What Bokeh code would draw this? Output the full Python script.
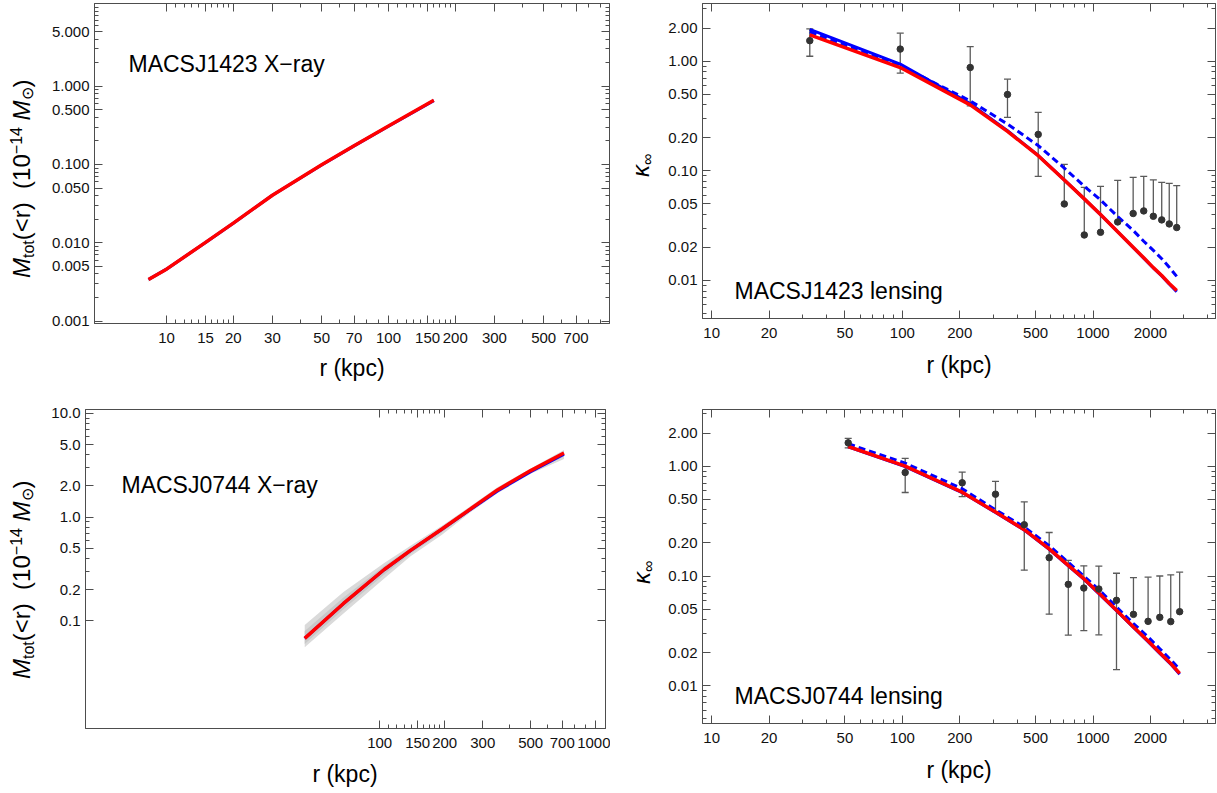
from bokeh.embed import file_html
from bokeh.layouts import column, row
from bokeh.models import (AllLabels, Div, FixedTicker, Label, LogAxis,
                          PrintfTickFormatter, Range1d)
from bokeh.plotting import figure
from bokeh.resources import INLINE

# ---------------------------------------------------------------- data
# MACSJ1423, total mass from X-ray
r_x1423 = [8.3, 10, 15, 20, 30, 50, 70, 100, 160]
m_x1423 = [0.0034, 0.0046, 0.0101, 0.0178, 0.0405, 0.099, 0.174, 0.31, 0.66]
m_x1423_blue = [0.0034, 0.0046, 0.0101, 0.0178, 0.0404, 0.0985, 0.173, 0.308, 0.655]
m_x1423_lo = [0.0032, 0.0044, 0.0097, 0.0172, 0.0392, 0.096, 0.169, 0.301, 0.64]
m_x1423_hi = [0.0036, 0.0048, 0.0105, 0.0184, 0.0418, 0.102, 0.179, 0.319, 0.68]

# MACSJ0744, total mass from X-ray
r_x0744 = [45, 68, 105, 139, 195, 264, 351, 500, 713]
m_x0744 = [0.068, 0.1475, 0.313, 0.479, 0.774, 1.205, 1.83, 2.81, 4.15]
m_x0744_blue = [0.068, 0.147, 0.312, 0.477, 0.77, 1.19, 1.79, 2.74, 4.05]
m_x0744_lo = [0.0558, 0.118, 0.256, 0.42, 0.682, 1.12, 1.70, 2.62, 3.63]
m_x0744_hi = [0.0914, 0.190, 0.362, 0.53, 0.832, 1.28, 1.94, 2.95, 4.43]
m_x0744_lo_in = [0.060, 0.130, 0.280, 0.445, 0.72, 1.15, 1.76, 2.70, 3.85]
m_x0744_hi_in = [0.080, 0.168, 0.338, 0.505, 0.80, 1.24, 1.88, 2.88, 4.30]

# MACSJ1423, lensing convergence
r_l1423 = [32.7, 97.5, 227, 356, 516, 707, 900, 1095, 1347, 1624, 1845, 2072, 2293, 2511, 2748]
k_l1423 = [1.54, 1.29, 0.876, 0.497, 0.215, 0.0499, 0.026, 0.0275, 0.0342, 0.0408,
           0.0431, 0.0385, 0.0357, 0.0328, 0.0304]
e_l1423 = [0.43, 0.51, 0.484, 0.189, 0.126, 0.0647, 0.0448, 0.0447, 0.0477, 0.0465,
           0.046, 0.0441, 0.0429, 0.0441, 0.0429]
k_l1423_red = [1.74, 0.875, 0.40, 0.229, 0.1375, 0.0826, 0.0555, 0.0399, 0.0278, 0.0201,
               0.0161, 0.0131, 0.0111, 0.0094, 0.0081]
k_l1423_blue = [1.95, 0.94, 0.41, 0.232, 0.138, 0.0826, 0.0555, 0.0399, 0.0278, 0.0200,
                0.0160, 0.0130, 0.0110, 0.0093, 0.0079]
k_l1423_dash = [1.85, 0.91, 0.435, 0.267, 0.17, 0.106, 0.0723, 0.0543, 0.0383, 0.0286,
                0.0228, 0.0188, 0.0158, 0.0132, 0.0109]

# MACSJ0744, lensing convergence
r_l0744 = [52, 103.5, 206, 308, 436, 589, 742, 895, 1073, 1328, 1630, 1945, 2240, 2557, 2847]
k_l0744 = [1.63, 0.876, 0.706, 0.556, 0.293, 0.147, 0.084, 0.0778, 0.0762, 0.0601,
           0.0448, 0.0387, 0.0421, 0.0385, 0.0474]
e_l0744 = [0.16, 0.30, 0.178, 0.17, 0.18, 0.102, 0.055, 0.046, 0.047, 0.046,
           0.052, 0.059, 0.058, 0.064, 0.061]
k_l0744_red = [1.51, 1.00, 0.58, 0.382, 0.264, 0.177, 0.125, 0.0946, 0.070, 0.0488,
               0.0344, 0.0256, 0.0200, 0.0160, 0.0130]
k_l0744_blue = [1.50, 0.99, 0.575, 0.379, 0.262, 0.175, 0.124, 0.0937, 0.0693, 0.0483,
                0.0340, 0.0253, 0.0198, 0.0158, 0.0128]
k_l0744_dash = [1.60, 1.065, 0.623, 0.401, 0.279, 0.189, 0.133, 0.100, 0.0752, 0.0523,
                0.0369, 0.0279, 0.0218, 0.0173, 0.0142]

# ---------------------------------------------------------------- ticks
x_ticks_x1423 = [10, 15, 20, 30, 50, 70, 100, 150, 200, 300, 500, 700]
x_minor_x1423 = [11, 12, 13, 14, 16, 17, 18, 19, 40, 60, 80, 90, 110, 120, 130, 140,
                 160, 170, 180, 190, 400, 600, 800, 900]
y_ticks_x1423 = [0.001, 0.005, 0.01, 0.05, 0.1, 0.5, 1, 5]
y_minor_x1423 = [0.002, 0.003, 0.004, 0.006, 0.007, 0.008, 0.009, 0.02, 0.03, 0.04,
                 0.06, 0.07, 0.08, 0.09, 0.2, 0.3, 0.4, 0.6, 0.7, 0.8, 0.9,
                 2, 3, 4, 6, 7, 8, 9, 10]

x_ticks_x0744 = [100, 150, 200, 300, 500, 700, 1000]
x_minor_x0744 = [110, 120, 130, 140, 160, 170, 180, 190, 400, 600, 800, 900]
y_ticks_x0744 = [0.1, 0.2, 0.5, 1, 2, 5, 10]
y_minor_x0744 = [0.3, 0.4, 0.6, 0.7, 0.8, 0.9, 3, 4, 6, 7, 8, 9]

x_ticks_lens = [10, 20, 50, 100, 200, 500, 1000, 2000]
x_minor_lens = [30, 40, 60, 70, 80, 90, 300, 400, 600, 700, 800, 900, 3000, 4000]
y_ticks_lens = [0.01, 0.02, 0.05, 0.1, 0.2, 0.5, 1, 2]
y_minor_lens = [0.005, 0.006, 0.007, 0.008, 0.009, 0.03, 0.04, 0.06, 0.07, 0.08, 0.09,
                0.3, 0.4, 0.6, 0.7, 0.8, 0.9, 3]

X_TITLE = "r (kpc)"

# ---------------------------------------------------------------- style
FONT = "Liberation Sans"
FRAME = "#4d4d4d"
RED = "#ff0000"
BLUE = "#0000ff"
BAR = "#5a5a5a"
DOT = "#333333"
TICK_PX = "15px"
BIG = 23


def style_axis(ax, fmt=None, hidden=False):
    ax.major_tick_in = 8
    ax.major_tick_out = 0
    ax.minor_tick_in = 4
    ax.minor_tick_out = 0
    ax.axis_line_color = FRAME
    ax.major_tick_line_color = FRAME
    ax.minor_tick_line_color = FRAME
    if hidden:
        # mirrored frame ticks only, no numbers
        ax.major_label_text_color = None
        ax.major_label_text_font_size = "1px"
        ax.major_label_standoff = 0
    else:
        ax.major_label_policy = AllLabels()
        ax.formatter = PrintfTickFormatter(format=fmt)
        ax.major_label_text_font = FONT
        ax.major_label_text_font_size = TICK_PX
        ax.major_label_text_color = "#111111"


def panel(width, height, xr, yr, borders, xt, xm, yt, ym, xfmt, yfmt):
    left, right, top, bottom = borders
    p = figure(width=width, height=height, x_axis_type="log", y_axis_type="log",
               x_range=Range1d(*xr), y_range=Range1d(*yr),
               output_backend="svg", toolbar_location=None,
               min_border_left=left, min_border_right=right,
               min_border_top=top, min_border_bottom=bottom)
    p.grid.visible = False
    p.outline_line_color = FRAME
    p.outline_line_width = 1
    p.background_fill_color = "white"
    p.border_fill_color = "white"

    xa, ya = p.xaxis[0], p.yaxis[0]
    xa.ticker = FixedTicker(ticks=xt, minor_ticks=xm)
    ya.ticker = FixedTicker(ticks=yt, minor_ticks=ym)
    style_axis(xa, xfmt)
    style_axis(ya, yfmt)
    xa.major_label_standoff = 9
    ya.major_label_standoff = 5

    top_ax = LogAxis(ticker=FixedTicker(ticks=xt, minor_ticks=xm))
    right_ax = LogAxis(ticker=FixedTicker(ticks=yt, minor_ticks=ym))
    style_axis(top_ax, hidden=True)
    style_axis(right_ax, hidden=True)
    p.add_layout(top_ax, "above")
    p.add_layout(right_ax, "right")
    return p


def add_text(p, x, y, text, size):
    p.add_layout(Label(x=x, y=y, x_units="screen", y_units="screen", text=text,
                       text_font=FONT, text_font_size=f"{size}px",
                       text_color="black", text_align="left",
                       text_baseline="alphabetic"))


def error_bars(p, r, k, e):
    lo = [a - b for a, b in zip(k, e)]
    hi = [a + b for a, b in zip(k, e)]
    bottom = [l if l > 0 else a for l, a in zip(lo, k)]
    p.segment(x0=r, y0=bottom, x1=r, y1=hi, line_color=BAR, line_width=1.3)
    p.scatter(r, hi, marker="dash", size=7, line_color=BAR, line_width=1.3)
    r_lo = [x for x, l in zip(r, lo) if l > 0]
    v_lo = [l for l in lo if l > 0]
    p.scatter(r_lo, v_lo, marker="dash", size=7, line_color=BAR, line_width=1.3)


# ---------------------------------------------------------------- html titles
TXT = f"font-family:'{FONT}',sans-serif;color:#000;white-space:nowrap;line-height:1;"
SUB = "font-size:16px;position:relative;top:4px;"
SUP = "font-size:16px;position:relative;top:-8px;"

MASS_TITLE = (f"<i>M</i><span style='{SUB}'>tot</span>(&lt;r)&nbsp;&nbsp;(10"
              f"<span style='{SUP}'>&minus;14</span>&nbsp;<i>M</i>"
              f"<span style='font-size:16px;position:relative;top:3px;'>&#8857;</span>)")
KAPPA_TITLE = f"<i>&kappa;</i><span style='{SUB}'>&infin;</span>"


def vertical_title(width, height, left, bottom, html):
    # rotated axis title; text runs upwards starting at (left, bottom)
    span = (f"<span style=\"position:absolute;left:{left}px;top:{bottom}px;"
            f"transform-origin:0 0;transform:rotate(-90deg);font-size:24px;{TXT}\">"
            f"{html}</span>")
    box = f"<div style=\"position:relative;width:{width}px;height:{height}px;\">{span}</div>"
    return Div(text=box, width=width, height=height, margin=0,
               styles={"overflow": "visible"})


def title_band(width, height, items):
    # horizontal strip holding the x-axis titles, centred at given x
    spans = "".join(
        f"<span style=\"position:absolute;left:{cx}px;top:{top}px;"
        f"transform:translateX(-50%);font-size:23px;{TXT}\">{text}</span>"
        for cx, top, text in items)
    box = f"<div style=\"position:relative;width:{width}px;height:{height}px;\">{spans}</div>"
    return Div(text=box, width=width, height=height, margin=0,
               styles={"overflow": "visible"})


# ---------------------------------------------------------------- MACSJ1423 X-ray
p1 = panel(570, 355, (4.74, 990), (0.00093, 11.4), (54, 1, 3, 32),
           x_ticks_x1423, x_minor_x1423, y_ticks_x1423, y_minor_x1423, "%d", "%.3f")
p1.varea(x=r_x1423, y1=m_x1423_lo, y2=m_x1423_hi, fill_color="#bdbdbd")
p1.line(r_x1423, m_x1423_blue, line_color=BLUE, line_width=3)
p1.line(r_x1423, m_x1423, line_color=RED, line_width=3.5)
add_text(p1, 34, 260, "MACSJ1423 X\u2212ray", BIG)

# ---------------------------------------------------------------- MACSJ1423 lensing
p2 = panel(559, 355, (8.95, 4390), (0.0045, 3.36), (44, 2, 3, 37),
           x_ticks_lens, x_minor_lens, y_ticks_lens, y_minor_lens, "%d", "%.2f")
error_bars(p2, r_l1423, k_l1423, e_l1423)
p2.line(r_l1423, k_l1423_blue, line_color=BLUE, line_width=3)
p2.line(r_l1423, k_l1423_dash, line_color=BLUE, line_width=3, line_dash="7 4")
p2.line(r_l1423, k_l1423_red, line_color=RED, line_width=3.5)
p2.scatter(r_l1423, k_l1423, marker="circle", size=6.5, fill_color=DOT, line_color=DOT)
add_text(p2, 32, 28, "MACSJ1423 lensing", BIG)

# ---------------------------------------------------------------- MACSJ0744 X-ray
p3 = panel(570, 366, (4.35, 1110), (0.0092, 10.9), (45, 5, 19, 28),
           x_ticks_x0744, x_minor_x0744, y_ticks_x0744, y_minor_x0744, "%d", "%.1f")
p3.varea(x=r_x0744, y1=m_x0744_lo, y2=m_x0744_hi, fill_color="#dadada")
p3.varea(x=r_x0744, y1=m_x0744_lo_in, y2=m_x0744_hi_in, fill_color="#c8c8c8")
p3.line(r_x0744, m_x0744_blue, line_color=BLUE, line_width=3)
p3.line(r_x0744, m_x0744, line_color=RED, line_width=3.5)
add_text(p3, 36, 244, "MACSJ0744 X\u2212ray", BIG)

# ---------------------------------------------------------------- MACSJ0744 lensing
p4 = panel(559, 366, (8.95, 4390), (0.00455, 3.28), (44, 2, 19, 33),
           x_ticks_lens, x_minor_lens, y_ticks_lens, y_minor_lens, "%d", "%.2f")
error_bars(p4, r_l0744, k_l0744, e_l0744)
p4.line(r_l0744, k_l0744_blue, line_color=BLUE, line_width=3)
p4.line(r_l0744, k_l0744_dash, line_color=BLUE, line_width=3, line_dash="7 4")
p4.line(r_l0744, k_l0744_red, line_color=RED, line_width=3.5)
p4.scatter(r_l0744, k_l0744, marker="circle", size=6.5, fill_color=DOT, line_color=DOT)
add_text(p4, 32, 28, "MACSJ0744 lensing", BIG)

# ---------------------------------------------------------------- page
t1 = vertical_title(40, 355, 10, 278, MASS_TITLE)
t2 = vertical_title(48, 355, 19, 177, KAPPA_TITLE)
t3 = vertical_title(40, 366, 10, 289, MASS_TITLE)
t4 = vertical_title(48, 366, 20, 194, KAPPA_TITLE)
xt_top = title_band(1217, 35, [(352, 2, X_TITLE), (959, -1, X_TITLE)])
xt_bot = title_band(1217, 37, [(345, 7, X_TITLE), (959, 3, X_TITLE)])

# each panel sits in its own column so that neighbouring frames keep their own heights
layout = column(row(t1, column(p1), t2, column(p2)), xt_top,
                row(t3, column(p3), t4, column(p4)), xt_bot)

html = file_html(layout, INLINE, title="Cluster mass profiles")
html = html.replace("<body>", '<body style="margin:0;">', 1)
open("out.html", "w").write(html)
